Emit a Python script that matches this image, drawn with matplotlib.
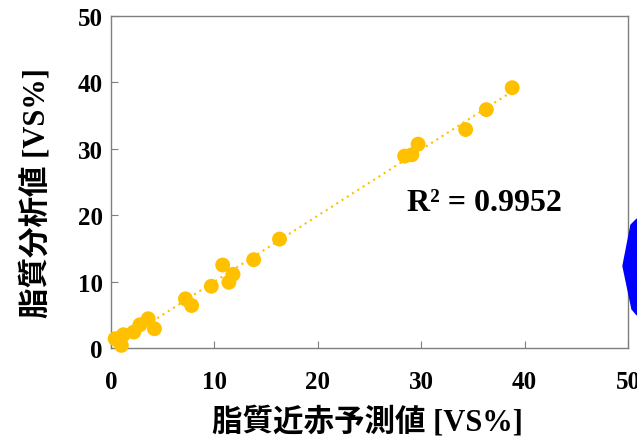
import numpy as np
import matplotlib
matplotlib.use("Agg")
import matplotlib.pyplot as plt
from matplotlib.patches import Polygon

# Data
predicted = [0.4, 1.0, 1.2, 2.2, 2.8, 3.6, 4.2, 7.2, 7.8, 9.7, 10.8, 11.8, 11.4,
             13.8, 16.3, 28.4, 29.1, 29.7, 34.3, 36.3, 38.8]
analyzed = [1.4, 0.4, 2.0, 2.4, 3.5, 4.4, 2.9, 7.4, 6.4, 9.3, 12.5, 11.1, 9.9,
            13.3, 16.4, 28.9, 29.1, 30.7, 32.9, 35.9, 39.2]
ticks = [0, 10, 20, 30, 40, 50]
xlabel = "脂質近赤予測値 [VS%]"
ylabel = "脂質分析値 [VS%]"
r2_text = "R² = 0.9952"

gold = "#FFC000"
fam = ["Liberation Serif", "Noto Sans CJK JP"]

fig = plt.figure(figsize=(6.37, 4.39), dpi=100)
ax = fig.add_axes([111/637, 1-349/439, (628-111)/637, (349-17)/439])

x = np.array(predicted)
y = np.array(analyzed)
coef = np.polyfit(x, y, 1)
xs = np.array([x.min(), x.max()])
ax.plot(xs, np.polyval(coef, xs), linestyle=(0, (1, 2)), color=gold, lw=1.5, zorder=2)
ax.scatter(x, y, s=115, color=gold, edgecolors="none", zorder=3, clip_on=False)

ax.set_xlim(0, 50)
ax.set_ylim(0, 50)
ax.set_xticks(ticks)
ax.set_yticks(ticks)
ax.tick_params(direction="in", length=5, width=0.8, color="#7f7f7f")
ax.tick_params(axis="x", pad=16)
ax.tick_params(axis="y", pad=6)
for lab in ax.get_xticklabels() + ax.get_yticklabels():
    lab.set_fontfamily("Liberation Serif")
    lab.set_fontweight("bold")
    lab.set_fontsize(18)
for s in ax.spines.values():
    s.set_color("#7f7f7f")
    s.set_linewidth(1.0)

fig.text(367/637, 1-422/439, xlabel, family=fam, fontweight="bold", fontsize=22,
         ha="center", va="center")
fig.text(36/637, 1-193/439, ylabel, family=fam, fontweight="bold", fontsize=22,
         ha="center", va="center", rotation=90)

ax.text(407/637, 1-204/439, r2_text, transform=fig.transFigure, family="Liberation Serif",
        fontweight="bold", fontsize=23, ha="left", va="center")

# blue arrow shape cut at the right edge
poly = Polygon([(623/637, 1-267/439), (631/637, 1-226/439), (637/637, 1-220/439),
                (637/637, 1-316/439), (632/637, 1-310/439)],
               closed=True, transform=fig.transFigure, color="#0000FF", zorder=5)
fig.patches.append(poly)

fig.savefig("out.png", dpi=100)
